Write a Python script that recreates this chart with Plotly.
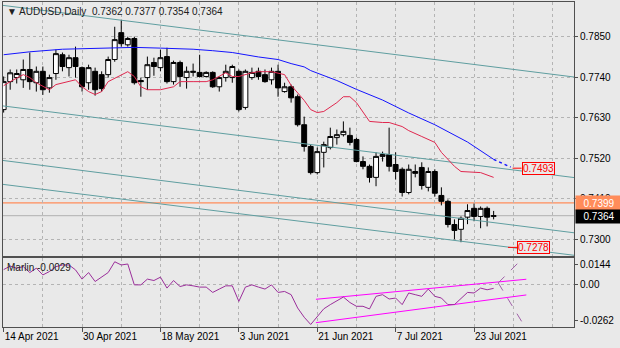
import plotly.graph_objects as go

# ---------------- data ----------------
bar_index = list(range(76))
open_ = [0.7652, 0.7728, 0.7739, 0.7733, 0.7761, 0.7725, 0.7756, 0.7711, 0.7750, 0.7801,
         0.7766, 0.7793, 0.7766, 0.7725, 0.7756, 0.7747, 0.7747, 0.7788, 0.7861, 0.7828,
         0.7845, 0.7731, 0.7739, 0.7780, 0.7766, 0.7796, 0.7728, 0.7780, 0.7739, 0.7753,
         0.7753, 0.7742, 0.7753, 0.7714, 0.7739, 0.7739, 0.7756, 0.7658, 0.7739, 0.7756,
         0.7747, 0.7733, 0.7756, 0.7701, 0.7714, 0.7687, 0.7611, 0.7552, 0.7481, 0.7536,
         0.7549, 0.7576, 0.7584, 0.7582, 0.7571, 0.7511, 0.7498, 0.7468, 0.7525, 0.7530,
         0.7503, 0.7490, 0.7427, 0.7484, 0.7495, 0.7441, 0.7484, 0.7419, 0.7403, 0.7340,
         0.7327, 0.7360, 0.7384, 0.7362, 0.7384, 0.7362]
high = [0.7742, 0.7761, 0.7761, 0.7788, 0.7807, 0.7769, 0.7769, 0.7747, 0.7815, 0.7807,
        0.7801, 0.7823, 0.7769, 0.7774, 0.7766, 0.7756, 0.7796, 0.7877, 0.7896, 0.7850,
        0.7850, 0.7739, 0.7796, 0.7793, 0.7815, 0.7820, 0.7785, 0.7785, 0.7769, 0.7777,
        0.7801, 0.7756, 0.7756, 0.7742, 0.7774, 0.7774, 0.7761, 0.7761, 0.7766, 0.7766,
        0.7761, 0.7766, 0.7774, 0.7725, 0.7720, 0.7693, 0.7633, 0.7557, 0.7549, 0.7565,
        0.7603, 0.7598, 0.7620, 0.7603, 0.7576, 0.7525, 0.7503, 0.7536, 0.7538, 0.7603,
        0.7536, 0.7495, 0.7503, 0.7503, 0.7509, 0.7495, 0.7490, 0.7441, 0.7408, 0.7354,
        0.7362, 0.7395, 0.7397, 0.7389, 0.7389, 0.7377]
low = [0.7644, 0.7706, 0.7723, 0.7711, 0.7706, 0.7701, 0.7692, 0.7698, 0.7733, 0.7756,
       0.7742, 0.7739, 0.7701, 0.7706, 0.7690, 0.7701, 0.7739, 0.7782, 0.7823, 0.7823,
       0.7720, 0.7687, 0.7706, 0.7744, 0.7756, 0.7723, 0.7720, 0.7714, 0.7709, 0.7742,
       0.7739, 0.7739, 0.7711, 0.7701, 0.7728, 0.7725, 0.7647, 0.7652, 0.7733, 0.7733,
       0.7725, 0.7720, 0.7687, 0.7698, 0.7671, 0.7606, 0.7538, 0.7476, 0.7476, 0.7495,
       0.7544, 0.7557, 0.7579, 0.7555, 0.7509, 0.7490, 0.7454, 0.7444, 0.7511, 0.7484,
       0.7462, 0.7416, 0.7422, 0.7468, 0.7435, 0.7430, 0.7416, 0.7392, 0.7332, 0.7300,
       0.7292, 0.7341, 0.7349, 0.7330, 0.7335, 0.7354]
close = [0.7728, 0.7752, 0.7750, 0.7761, 0.7728, 0.7756, 0.7706, 0.7739, 0.7804, 0.7769,
         0.7793, 0.7769, 0.7714, 0.7766, 0.7706, 0.7709, 0.7788, 0.7842, 0.7831, 0.7845,
         0.7725, 0.7728, 0.7774, 0.7769, 0.7793, 0.7728, 0.7780, 0.7742, 0.7756, 0.7756,
         0.7742, 0.7753, 0.7714, 0.7739, 0.7756, 0.7769, 0.7652, 0.7756, 0.7753, 0.7742,
         0.7728, 0.7756, 0.7711, 0.7714, 0.7684, 0.7611, 0.7552, 0.7481, 0.7538, 0.7557,
         0.7579, 0.7584, 0.7593, 0.7563, 0.7511, 0.7498, 0.7468, 0.7525, 0.7530, 0.7498,
         0.7484, 0.7427, 0.7490, 0.7479, 0.7446, 0.7484, 0.7425, 0.7403, 0.7340, 0.7324,
         0.7357, 0.7378, 0.7362, 0.7384, 0.7360, 0.7364]

date_tick_index = [0, 12, 24, 36, 48, 60, 72]
date_tick_text = ["14 Apr 2021", "30 Apr 2021", "18 May 2021", "3 Jun 2021",
                  "21 Jun 2021", "7 Jul 2021", "23 Jul 2021"]

price_tick_values = [0.7850, 0.7740, 0.7630, 0.7520, 0.7410, 0.7300]
price_tick_text = ["0.7850", "0.7740", "0.7630", "0.7520", "0.7410", "0.7300"]

red_ma_index = [0, 1, 3, 4, 5, 7, 8, 10, 11, 12, 13, 14, 15, 16, 18, 19, 20, 21, 22, 24,
                26, 27, 29, 31, 32, 33, 34, 35, 36, 38, 39, 41, 43, 44, 46, 47, 48, 49, 51,
                52, 53, 54, 55, 56, 58, 59, 61, 62, 64, 66, 67, 69, 70, 72, 73, 75]
red_ma_value = [0.7717, 0.7728, 0.7747, 0.7739, 0.7725, 0.7706, 0.7720, 0.7728, 0.7733, 0.7714,
                0.7701, 0.7693, 0.7701, 0.7728, 0.7747, 0.7755, 0.7742, 0.7714, 0.7706, 0.7706,
                0.7714, 0.7728, 0.7728, 0.7728, 0.7733, 0.7742, 0.7752, 0.7742, 0.7742, 0.7752,
                0.7755, 0.7755, 0.7747, 0.7718, 0.7677, 0.7652, 0.7644, 0.7647, 0.7671,
                0.7687, 0.7687, 0.7671, 0.7644, 0.7620, 0.7617, 0.7617, 0.7606, 0.7595, 0.7579,
                0.7563, 0.7536, 0.7498, 0.7484, 0.7481, 0.7481, 0.7468]
blue_ma_index = [0, 4, 9, 15, 20, 24, 29, 32, 35, 39, 42, 44, 46, 47, 51, 54, 58, 62, 66, 71, 75]
blue_ma_value = [0.7801, 0.7809, 0.7816, 0.7819, 0.7821, 0.7819, 0.7816, 0.7812, 0.7807, 0.7795,
                 0.7788, 0.7777, 0.7768, 0.7758, 0.7731, 0.7707, 0.7678, 0.7643, 0.7611, 0.7564,
                 0.7517]
blue_projection_index = [75, 77.6]
blue_projection_value = [0.7517, 0.7496]

channel_index = [-1, 88]
channel_1 = [0.7937, 0.7739]
channel_2 = [0.7664, 0.7466]
channel_3 = [0.7516, 0.7316]
channel_4 = [0.7451, 0.7255]

orange_level = 0.7399
bid_level = 0.7364
target_high = 0.7493
target_high_index = 77.9
target_low = 0.7278
target_low_index = 77.2

marlin = [0.0105, 0.0130, 0.0115, 0.0126, 0.0084, 0.0115, 0.0067, 0.0091, 0.0126, 0.0138,
          0.0138, 0.0103, 0.0037, 0.0084, 0.0020, 0.0055, 0.0084, 0.0161, 0.0138, 0.0145,
          -0.0004, -0.0004, 0.0037, 0.0027, 0.0051, -0.0027, 0.0027, -0.0016, -0.0004, -0.0011,
          -0.0020, -0.0020, -0.0058, -0.0034, -0.0011, -0.0011, -0.0122, -0.0020, -0.0004, -0.0020,
          -0.0034, -0.0004, -0.0058, -0.0051, -0.0074, -0.0169, -0.0235, -0.0287, -0.0230, -0.0175,
          -0.0145, -0.0120, -0.0091, -0.0130, -0.0157, -0.0157, -0.0176, -0.0086, -0.0074, -0.0105,
          -0.0098, -0.0145, -0.0062, -0.0074, -0.0086, -0.0034, -0.0086, -0.0098, -0.0145, -0.0145,
          -0.0105, -0.0058, -0.0062, -0.0027, -0.0039, -0.0029]
marlin_tick_values = [0.0144, 0.0, -0.0262]
marlin_tick_text = ["0.0144", "0.00", "-0.0262"]
marlin_channel_index = [47.8, 80]
marlin_channel_upper = [-0.0107, 0.0036]
marlin_channel_lower = [-0.0274, -0.0076]
marlin_fan_up_index = [75.7, 79.2]
marlin_fan_up = [0.0010, 0.0174]
marlin_fan_down_index = [75.7, 79.3]
marlin_fan_down = [0.0010, -0.0266]

# ---------------- styling ----------------
BG = "#e9e9e9"
GRID = "#b4b4b4"
FRAME = "#505050"
TEAL = "#5f9ea0"
FONT = "Liberation Sans, Arial, sans-serif"

fig = go.Figure()

for ch in (channel_1, channel_2, channel_3, channel_4):
    fig.add_trace(go.Scatter(x=channel_index, y=ch, mode="lines",
                             line=dict(color=TEAL, width=1), xaxis="x", yaxis="y",
                             hoverinfo="skip"))

fig.add_trace(go.Candlestick(
    x=bar_index, open=open_, high=high, low=low, close=close,
    increasing=dict(line=dict(color="black", width=1), fillcolor="white"),
    decreasing=dict(line=dict(color="black", width=1), fillcolor="black"),
    whiskerwidth=0, xaxis="x", yaxis="y", hoverinfo="skip"))

fig.add_trace(go.Scatter(x=red_ma_index, y=red_ma_value, mode="lines",
                         line=dict(color="#e0284f", width=1), xaxis="x", yaxis="y"))
fig.add_trace(go.Scatter(x=blue_ma_index, y=blue_ma_value, mode="lines",
                         line=dict(color="#1414ff", width=1), xaxis="x", yaxis="y"))
fig.add_trace(go.Scatter(x=blue_projection_index, y=blue_projection_value, mode="lines",
                         line=dict(color="#1414ff", width=1.5, dash="dot"), xaxis="x", yaxis="y"))

# Marlin pane
fig.add_trace(go.Scatter(x=marlin_channel_index, y=marlin_channel_upper, mode="lines",
                         line=dict(color="#ff00ff", width=1), xaxis="x2", yaxis="y2"))
fig.add_trace(go.Scatter(x=marlin_channel_index, y=marlin_channel_lower, mode="lines",
                         line=dict(color="#ff00ff", width=1), xaxis="x2", yaxis="y2"))
fig.add_trace(go.Scatter(x=marlin_fan_up_index, y=marlin_fan_up, mode="lines",
                         line=dict(color="#a060a8", width=1, dash="dash"), xaxis="x2", yaxis="y2"))
fig.add_trace(go.Scatter(x=marlin_fan_down_index, y=marlin_fan_down, mode="lines",
                         line=dict(color="#a060a8", width=1, dash="dash"), xaxis="x2", yaxis="y2"))
fig.add_trace(go.Scatter(x=bar_index, y=marlin, mode="lines",
                         line=dict(color="#9b2f9b", width=1), xaxis="x2", yaxis="y2"))

shapes = [
    dict(type="line", xref="x domain", x0=0, x1=1, yref="y", y0=orange_level, y1=orange_level,
         line=dict(color="#ff8c5a", width=1.2), layer="below"),
    dict(type="line", xref="x domain", x0=0, x1=1, yref="y", y0=bid_level, y1=bid_level,
         line=dict(color="#b0b0b0", width=1), layer="below"),
]

annotations = [
    dict(xref="paper", yref="paper", x=0, y=1, xanchor="left", yanchor="top",
         xshift=2, yshift=-2, showarrow=False,
         text="▼ AUDUSD,Daily  0.7362 0.7377 0.7354 0.7364",
         font=dict(family=FONT, size=10, color="#202020")),
    dict(xref="paper", yref="y2 domain", x=0, y=1, xanchor="left", yanchor="top",
         xshift=2, yshift=-2, showarrow=False, text="Marlin -0.0029",
         font=dict(family=FONT, size=10, color="#202020")),
    dict(xref="paper", yref="y", x=1, y=orange_level, xanchor="left", yanchor="middle",
         xshift=1, showarrow=False, text=f"{orange_level:.4f}", width=44, height=12,
         align="center", bgcolor="#ff8c5a", font=dict(family=FONT, size=10, color="white")),
    dict(xref="paper", yref="y", x=1, y=bid_level, xanchor="left", yanchor="middle",
         xshift=1, yshift=-1, showarrow=False, text=f"{bid_level:.4f}", width=44, height=11,
         align="center", bgcolor="black", font=dict(family=FONT, size=10, color="white")),
    dict(xref="x", yref="y", x=target_high_index, y=target_high, ax=9, ay=0,
         axref="pixel", ayref="pixel", xanchor="left", yanchor="middle",
         showarrow=True, arrowhead=0, arrowwidth=1, arrowcolor="red",
         text=f"{target_high:.4f}", bordercolor="red", borderwidth=1, borderpad=0,
         bgcolor=BG, font=dict(family=FONT, size=10, color="red")),
    dict(xref="x", yref="y", x=target_low_index, y=target_low, ax=9, ay=0,
         axref="pixel", ayref="pixel", xanchor="left", yanchor="middle",
         showarrow=True, arrowhead=0, arrowwidth=1, arrowcolor="red",
         text=f"{target_low:.4f}", bordercolor="red", borderwidth=1, borderpad=0,
         bgcolor=BG, font=dict(family=FONT, size=10, color="red")),
]

x_range = [-0.1, 87.3]
axis_common = dict(showline=True, mirror=True, linecolor=FRAME, linewidth=1, zeroline=False)

fig.update_layout(
    width=620, height=348,
    margin=dict(l=3, r=46, t=2, b=21),
    paper_bgcolor=BG, plot_bgcolor=BG,
    showlegend=False, hovermode=False,
    font=dict(family=FONT, size=10, color="black"),
    boxgap=0.25, boxgroupgap=0,
    xaxis=dict(domain=[0, 1], anchor="y", range=x_range, showticklabels=False, ticks="",
               tickmode="linear", tick0=0, dtick=6, showgrid=True, gridcolor=GRID,
               griddash="dot", gridwidth=1, rangeslider=dict(visible=False), **axis_common),
    xaxis2=dict(domain=[0, 1], anchor="y2", range=x_range, matches="x",
                tickmode="array", tickvals=date_tick_index, ticktext=date_tick_text,
                ticks="outside", ticklen=4, tickcolor=FRAME, ticklabelposition="outside right",
                showgrid=False,
                minor=dict(tickmode="linear", tick0=0, dtick=6, showgrid=True, gridcolor=GRID,
                           griddash="dot", ticks=""),
                rangeslider=dict(visible=False), **axis_common),
    yaxis=dict(domain=[0.2185, 1], anchor="x", side="right", range=[0.72546, 0.79442],
               tickmode="array", tickvals=price_tick_values, ticktext=price_tick_text,
               ticks="outside", ticklen=3, tickcolor=FRAME, showgrid=True, gridcolor=GRID,
               griddash="dot", **axis_common),
    yaxis2=dict(domain=[0, 0.2123], anchor="x2", side="right", range=[-0.03049, 0.01878],
                tickmode="array", tickvals=marlin_tick_values, ticktext=marlin_tick_text,
                ticks="outside", ticklen=3, tickcolor=FRAME, showgrid=False,
                minor=dict(tickmode="array", tickvals=[0.0], showgrid=True, gridcolor=GRID,
                           griddash="dot", ticks=""),
                **axis_common),
    shapes=shapes,
    annotations=annotations,
)

fig.write_html("out.html")
